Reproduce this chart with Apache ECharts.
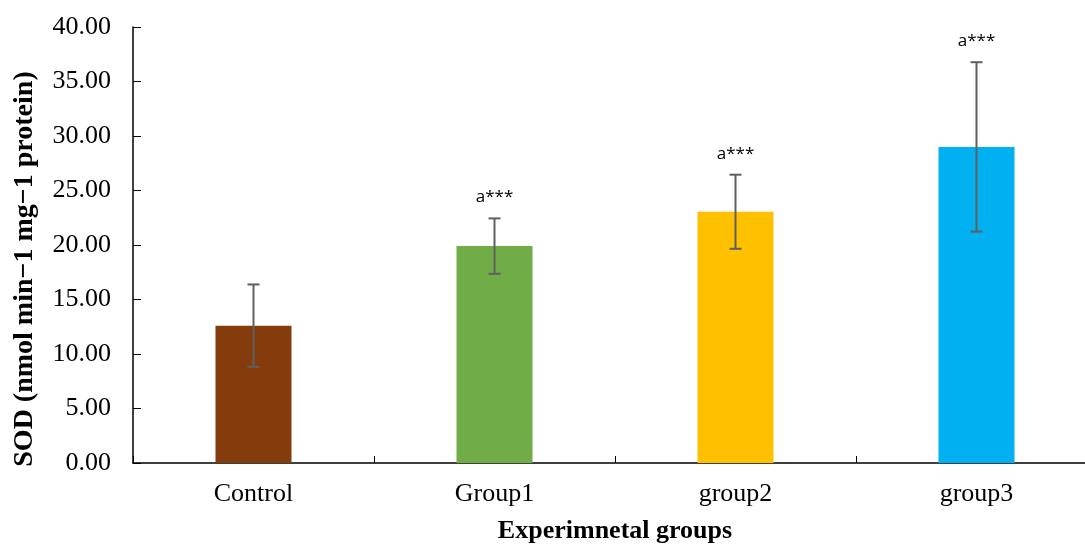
<!DOCTYPE html>
<html>
<head>
<meta charset="utf-8">
<script src="https://cdn.jsdelivr.net/npm/echarts@6/dist/echarts.min.js"></script>
<style>
  html, body { margin: 0; padding: 0; background: #fff; }
  #chart { width: 1085px; height: 545px; }
</style>
</head>
<body>
<div id="chart"></div>
<script>
// SOD activity per experimental group (mean ± SD)
const categories = ['Control', 'Group1', 'group2', 'group3'];
const sodMean = [12.6, 19.9, 23.05, 29.0];
const sodError = [3.78, 2.54, 3.4, 7.77];
const sigLabels = ['', 'a***', 'a***', 'a***'];
const barColors = ['#843C0C', '#70AD47', '#FFC000', '#00B0F0'];
const yTicks = { min: 0, max: 40, interval: 5 };
const yTitle = 'SOD (nmol min\u22121 mg\u22121 protein)';
const xTitle = 'Experimnetal groups';

const chart = echarts.init(document.getElementById('chart'));

const serif = '"Liberation Serif", "Times New Roman", serif';

const option = {
  animation: false,
  grid: { left: 133, top: 27, width: 964, height: 436, outerBoundsMode: 'none', containLabel: false },
  xAxis: {
    type: 'category',
    data: categories,
    axisLine: { lineStyle: { color: '#000', width: 1.5 } },
    axisTick: { show: true, inside: true, length: 7, lineStyle: { color: '#000', width: 1 } },
    axisLabel: { color: '#000', fontFamily: serif, fontSize: 26, margin: 18 },
    name: xTitle,
    nameLocation: 'middle',
    nameGap: 55,
    nameTextStyle: { color: '#000', fontFamily: serif, fontSize: 26, fontWeight: 'bold' }
  },
  yAxis: {
    type: 'value',
    min: yTicks.min,
    max: yTicks.max,
    interval: yTicks.interval,
    splitLine: { show: false },
    axisLine: { show: true, lineStyle: { color: '#000', width: 1.5 } },
    axisTick: { show: true, inside: true, length: 8, lineStyle: { color: '#000', width: 1 } },
    axisLabel: {
      color: '#000', fontFamily: serif, fontSize: 26, margin: 22,
      formatter: v => v.toFixed(2)
    }
  },
  graphic: [{
    type: 'text',
    x: 25, y: 269,
    rotation: Math.PI / 2,
    style: {
      text: yTitle,
      fontFamily: serif, fontSize: 28, fontWeight: 'bold', fill: '#000',
      textAlign: 'center', textVerticalAlign: 'middle'
    }
  }],
  series: [
    {
      type: 'bar',
      barWidth: 76,
      data: sodMean.map((v, i) => ({ value: v, itemStyle: { color: barColors[i] } }))
    },
    {
      type: 'custom',
      z: 10,
      data: sodMean.map((v, i) => [i, v, sodError[i]]),
      renderItem: function (params, api) {
        const idx = api.value(0);
        const mean = api.value(1);
        const err = api.value(2);
        const top = api.coord([idx, mean + err]);
        const bot = api.coord([idx, mean - err]);
        const cap = 6;
        const style = { stroke: '#5f5f5f', lineWidth: 2 };
        const children = [
          { type: 'line', shape: { x1: top[0], y1: top[1], x2: bot[0], y2: bot[1] }, style },
          { type: 'line', shape: { x1: top[0] - cap, y1: top[1], x2: top[0] + cap, y2: top[1] }, style },
          { type: 'line', shape: { x1: bot[0] - cap, y1: bot[1], x2: bot[0] + cap, y2: bot[1] }, style }
        ];
        const lbl = sigLabels[params.dataIndex];
        if (lbl) {
          children.push({
            type: 'text',
            style: {
              text: lbl, x: top[0], y: top[1] - 21,
              textAlign: 'center', textVerticalAlign: 'middle',
              fontFamily: '"Open Sans", "Liberation Sans", sans-serif',
              fontSize: 17, fill: '#000'
            }
          });
        }
        return { type: 'group', children };
      }
    }
  ]
};

chart.setOption(option);
</script>
</body>
</html>
